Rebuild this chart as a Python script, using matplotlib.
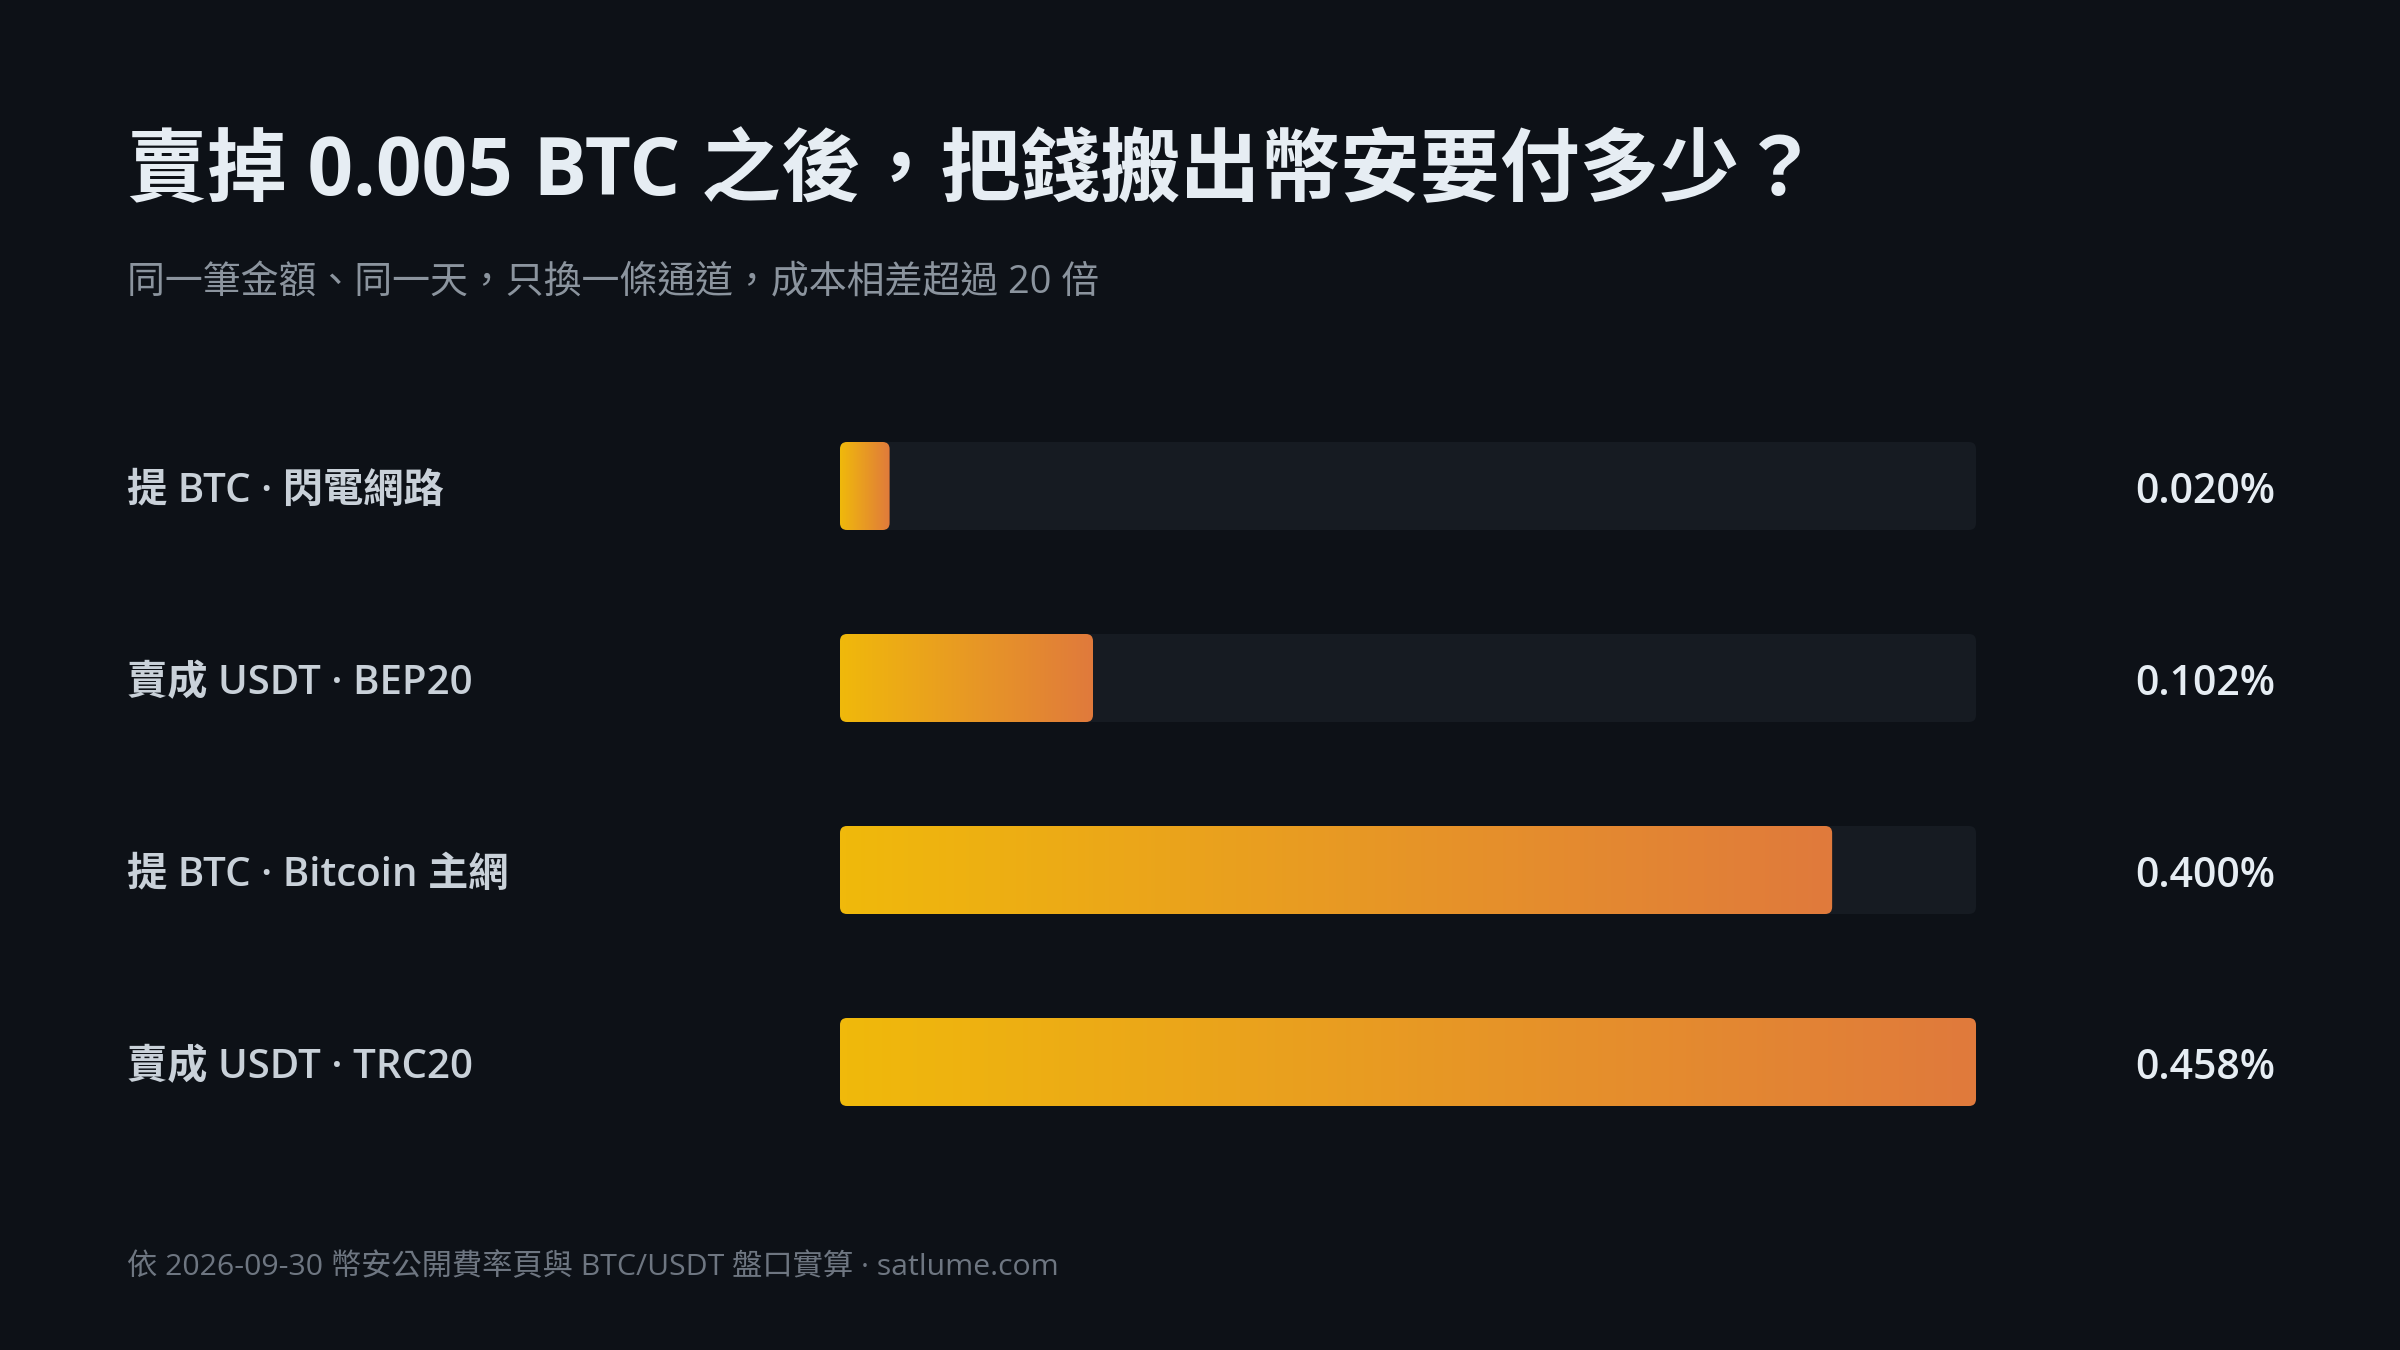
import numpy as np
import matplotlib
matplotlib.use("Agg")
import matplotlib.pyplot as plt
from matplotlib.patches import FancyBboxPatch
from matplotlib.colors import LinearSegmentedColormap
from matplotlib.transforms import blended_transform_factory, offset_copy

# ---- data ----
categories = ["提 BTC · 閃電網路", "賣成 USDT · BEP20", "提 BTC · Bitcoin 主網", "賣成 USDT · TRC20"]
fee_pct = [0.020, 0.102, 0.400, 0.458]
value_labels = ["0.020%", "0.102%", "0.400%", "0.458%"]
title = "賣掉 0.005 BTC 之後，把錢搬出幣安要付多少？"
subtitle = "同一筆金額、同一天，只換一條通道，成本相差超過 20 倍"
footer = "依 2026-09-30 幣安公開費率頁與 BTC/USDT 盤口實算 · satlume.com"

# ---- style ----
BG = "#0d1117"
TRACK = "#161b22"
C0, C1 = "#f0b90b", "#e07a3c"
FAM = ["Open Sans", "Noto Sans CJK TC", "DejaVu Sans"]
plt.rcParams["font.family"] = FAM

W, H = 2400, 1350
fig = plt.figure(figsize=(24, 13.5), dpi=100, facecolor=BG)

def fx(px):
    return px / W

def fy(py):
    return 1 - py / H

# axes: x from 840 to 1976 px, y from 390 to 1158 px
ax_left, ax_right, ax_top, ax_bot = 840, 1976, 390, 1158
ax = fig.add_axes([fx(ax_left), fy(ax_bot), fx(ax_right - ax_left), (ax_bot - ax_top) / H])
ax.set_facecolor("none")
ax.axis("off")
xmax = max(fee_pct)
n = len(categories)
ax.set_xlim(0, xmax)
ax.set_ylim(n - 0.5, -0.5)

bar_h = 88 / 192.0
px_x = xmax / (ax_right - ax_left)        # data-x per px
px_y = n / (ax_bot - ax_top)               # data-y per px
r_px = 7
rx = r_px * px_x
aspect = px_y / px_x

cmap = LinearSegmentedColormap.from_list("g", [C0, C1])
grad = np.linspace(0, 1, 256).reshape(1, -1)

for i, (cat, v) in enumerate(zip(categories, fee_pct)):
    y0 = i - bar_h / 2
    track = FancyBboxPatch((0, y0), xmax, bar_h,
                           boxstyle=f"round,pad=0,rounding_size={rx}",
                           mutation_aspect=aspect, facecolor=TRACK,
                           edgecolor="none", zorder=1)
    ax.add_patch(track)
    fill = FancyBboxPatch((0, y0), v, bar_h,
                          boxstyle=f"round,pad=0,rounding_size={rx}",
                          mutation_aspect=aspect, facecolor="none",
                          edgecolor="none", zorder=2)
    ax.add_patch(fill)
    im = ax.imshow(grad, cmap=cmap, extent=(0, v, i + bar_h / 2, y0),
                   aspect="auto", interpolation="bicubic", zorder=2)
    im.set_clip_path(fill)

ax.set_xlim(0, xmax)
ax.set_ylim(n - 0.5, -0.5)

# labels & values
tr = blended_transform_factory(fig.transFigure, ax.transData)
tr = offset_copy(tr, fig=fig, x=0, y=-6, units="dots")
for i, (cat, lab) in enumerate(zip(categories, value_labels)):
    ax.text(fx(127), i, cat, transform=tr, ha="left", va="center",
            fontsize=29, color="#c9d1d9", fontweight="semibold", family=FAM)
    ax.text(fx(2275), i, lab, transform=tr, ha="right", va="center",
            fontsize=29.5, color="#e6edf3", fontweight="semibold", family=FAM)

fig.text(fx(127), fy(174), title, ha="left", va="center", fontsize=57.5,
         fontweight="bold", color="#e6edf3", family=FAM)
fig.text(fx(127), fy(283), subtitle, ha="left", va="center", fontsize=27.3,
         color="#8b949e", family=FAM)
fig.text(fx(127), fy(1268), footer, ha="left", va="center", fontsize=21.8,
         color="#6e7681", family=FAM)

fig.savefig("out.png", dpi=100, facecolor=BG)
